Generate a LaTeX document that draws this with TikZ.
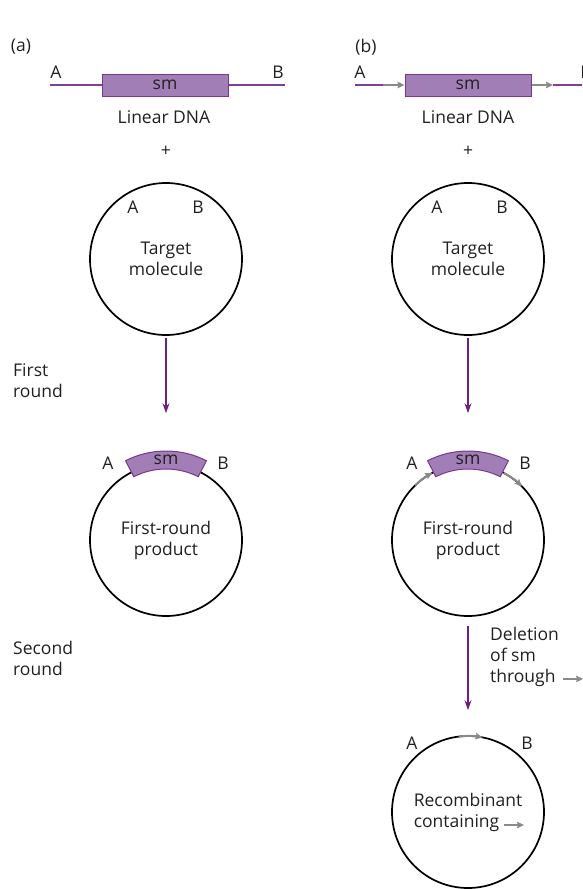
\documentclass[tikz,border=0pt]{standalone}
\usepackage{fontspec}
\setmainfont{Open Sans}
\usetikzlibrary{arrows.meta}
\definecolor{fgText}{HTML}{231F20}
\definecolor{dnaLine}{HTML}{7F3F98}
\definecolor{smFill}{HTML}{A17FB6}
\definecolor{smLine}{HTML}{7A3590}
\definecolor{flowLine}{HTML}{6E2183}
\definecolor{dirLine}{HTML}{8A8A8A}

\begin{document}
\begin{tikzpicture}[
    x=1pt, y=-1pt,
    font=\fontsize{17.5}{21}\selectfont,
    tag/.style={inner sep=0pt, text=fgText},
    caption/.style={inner sep=0pt, text=fgText, anchor=north west, align=left},
    plasmid/.style={circle, draw=black, line width=1.7pt, minimum size=152pt,
                    inner sep=0pt, text=fgText, align=center},
    smbox/.style={rectangle, draw=smLine, fill=smFill, line width=1pt, text=fgText,
                  minimum width=126pt, minimum height=22pt, inner sep=0pt},
    smsector/.style={draw=smLine, fill=smFill, line width=1pt},
    dna/.style={draw=dnaLine, line width=1.8pt},
    flow/.style={draw=flowLine, line width=1.3pt, -{Stealth[length=10pt,width=7pt]}},
    site/.style={draw=dirLine, line width=2pt, -{Stealth[length=7pt,width=6.5pt,inset=1pt]}},
  ]
  \useasboundingbox (0,0) rectangle (582,889);

  % Column x-positions and row y-positions
  \def\cA{166}\def\cB{468}
  \def\rDNA{85}\def\rTgt{259}\def\rProd{540}\def\rRec{812}

  % PANEL TAGS
  \node[tag] (tagA) at (21,47) {(a)};
  \node[tag] (tagB) at (366,47) {(b)};

  % LINEAR DNA (a)
  \node[smbox] (dnaA) at (\cA-1,\rDNA) {sm};
  \coordinate (dnaAl) at (50,\rDNA);
  \coordinate (dnaAr) at (285,\rDNA);
  \draw[dna] (dnaAl) -- (dnaA.west);
  \draw[dna] (dnaA.east) -- (dnaAr);
  \node[tag] (dnaAa) at (56,72) {A};
  \node[tag] (dnaAb) at (278,72) {B};
  \node[tag] (dnaAcap) at (\cA-2,117) {Linear DNA};
  \node[tag] (plusA) at (\cA,151) {+};

  % LINEAR DNA (b)
  \node[smbox] (dnaB) at (\cB,\rDNA) {sm};
  \coordinate (dnaBl) at (355,\rDNA);
  \coordinate (dnaBm) at (383,\rDNA);
  \coordinate (dnaBn) at (553,\rDNA);
  \coordinate (dnaBr) at (582,\rDNA);
  \draw[dna] (dnaBl) -- (dnaBm);
  \draw[site] (dnaBm) -- (dnaB.west);
  \draw[site] (dnaB.east) -- (dnaBn);
  \draw[dna] (dnaBn) -- (dnaBr);
  \node[tag] (dnaBa) at (360,72) {A};
  \node[tag] (dnaBb) at (586,72) {B};
  \node[tag] (dnaBcap) at (\cB,117) {Linear DNA};
  \node[tag] (plusB) at (\cB,151) {+};

  % TARGET MOLECULES
  \node[plasmid] (tgtA) at (\cA,\rTgt) {Target\\molecule};
  \node[tag] at (133,207) {A};
  \node[tag] at (198,207) {B};
  \node[plasmid] (tgtB) at (\cB,\rTgt) {Target\\molecule};
  \node[tag] at (437,207) {A};
  \node[tag] at (502,207) {B};

  % FIRST-ROUND PRODUCTS
  \node[plasmid] (prodA) at (\cA,\rProd) {First-round\\product};
  \node[plasmid] (prodB) at (\cB,\rProd) {First-round\\product};
  \foreach \p in {prodA, prodB} {
    \filldraw[smsector] ([shift={(63:89pt)}]\p.center) arc[start angle=63, end angle=117, radius=89pt]
      -- ([shift={(117:71pt)}]\p.center) arc[start angle=117, end angle=63, radius=71pt] -- cycle;
    \node[tag] at ([shift={(0,-80)}]\p.center) {sm};
  }
  \node[tag] at (108,463) {A};
  \node[tag] at (223,463) {B};
  \node[tag] at (412,463) {A};
  \node[tag] at (525,463) {B};
  \draw[site] ([shift={(134:76pt)}]prodB.center) arc[start angle=134, end angle=118, radius=76pt];
  \draw[site] ([shift={(62:76pt)}]prodB.center) arc[start angle=62, end angle=45, radius=76pt];

  % FIRST ROUND
  \node[caption] (rndA) at (13,363) {First\\round};
  \draw[flow, shorten <=2pt, shorten >=50pt] (tgtA) -- (prodA);
  \draw[flow, shorten <=2pt, shorten >=50pt] (tgtB) -- (prodB);

  % RECOMBINANT
  \node[plasmid, align=left] (recB) at (\cB,\rRec) {Recombinant\\containing};
  \node[tag] at (412,743) {A};
  \node[tag] at (527,743) {B};
  \draw[site] ([shift={(97:76pt)}]recB.center) arc[start angle=97, end angle=79, radius=76pt];
  \draw[site] ([shift={(36,13)}]recB.center) -- ++(20,0);

  % SECOND ROUND
  \node[caption] (rndB) at (13,641) {Second\\round};
  \draw[flow, shorten <=9pt, shorten >=25pt] (prodB) -- (recB);
  \node[caption] (delB) at (490,627) {Deletion\\of sm\\through};
  \draw[site] ([shift={(4,-8)}]delB.south east) -- ++(20,0);

\end{tikzpicture}
\end{document}
